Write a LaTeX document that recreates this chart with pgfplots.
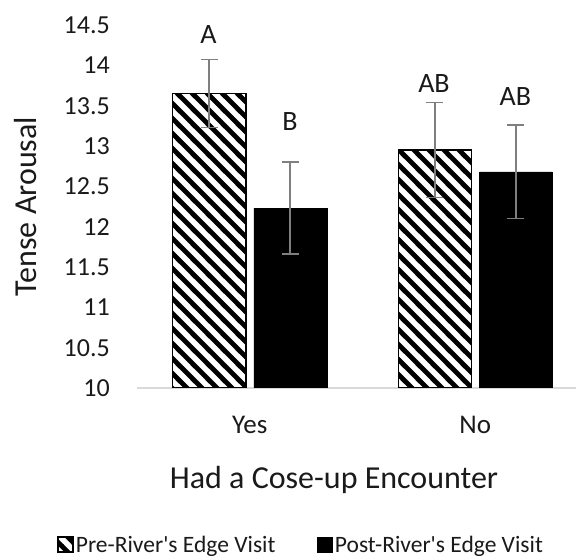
\documentclass[border=0pt]{standalone}
\usepackage{fontspec}
\setmainfont{Carlito}
\usepackage{pgfplots}
\pgfplotsset{compat=1.18}
\usetikzlibrary{patterns}

\definecolor{txt}{HTML}{1A1A1A}
\definecolor{errgray}{HTML}{7F7F7F}
\definecolor{axgray}{HTML}{D9D9D9}

% wide back-slanted stripes for the pre-visit bars
\pgfdeclarepatternformonly{widenwlines}{\pgfqpoint{0pt}{0pt}}{\pgfqpoint{15pt}{15pt}}{\pgfqpoint{15pt}{15pt}}{%
  \pgfsetlinewidth{4.8pt}%
  \pgfpathmoveto{\pgfqpoint{-5pt}{5pt}}\pgfpathlineto{\pgfqpoint{5pt}{-5pt}}%
  \pgfpathmoveto{\pgfqpoint{-1pt}{16pt}}\pgfpathlineto{\pgfqpoint{16pt}{-1pt}}%
  \pgfpathmoveto{\pgfqpoint{10pt}{20pt}}\pgfpathlineto{\pgfqpoint{20pt}{10pt}}%
  \pgfusepath{stroke}%
}

\begin{document}
\begin{tikzpicture}
\path[use as bounding box] (0,0) rectangle (576bp,559bp);
\begin{axis}[
  at={(137bp,171bp)}, anchor=south west,
  scale only axis, width=451bp, height=363bp,
  xmin=-0.5, xmax=1.5, ymin=10, ymax=14.5,
  ytick={10,10.5,...,14.5},
  yticklabels={10,10.5,11,11.5,12,12.5,13,13.5,14,14.5},
  xtick={0,1}, xticklabels={Yes,No},
  axis lines*=left,
  y axis line style={draw=none},
  x axis line style={draw=axgray, line width=1.3bp},
  major tick length=0pt,
  tick style={draw=none},
  ybar, bar width=73bp,
  font=\fontsize{26bp}{28bp}\selectfont,
  every tick label/.append style={text=txt},
  yticklabel style={anchor=east, inner sep=0pt, xshift=-27bp},
  xticklabel style={anchor=center, inner sep=0pt, yshift=-37bp, font=\fontsize{27bp}{30bp}\selectfont},
  ylabel={Tense Arousal},
  ylabel style={at={(axis description cs:-0.248,0.5)}, anchor=center, rotate=0, text=txt, font=\fontsize{32bp}{36bp}\selectfont},
  xlabel={Had a Cose-up Encounter},
  xlabel style={at={(axis description cs:0.437,-0.253)}, anchor=center, text=txt, font=\fontsize{32bp}{36bp}\selectfont},
  legend columns=2,
  legend style={at={(axis description cs:0.364,-0.433)}, anchor=center, draw=none,
    font=\fontsize{23.5bp}{26bp}\selectfont, text=txt, inner sep=0pt,
    /tikz/every even column/.append style={column sep=40bp}},
  legend image code/.code={\draw[#1] (0bp,-7bp) rectangle (15bp,8bp);},
]
\addplot[bar shift=-40.5bp, draw=black, line width=1.5bp, pattern=widenwlines, pattern color=black,
  error bars/.cd, y dir=both, y explicit,
  error bar style={draw=errgray, line width=1.6bp},
  error mark options={rotate=90, draw=errgray, line width=1.6bp, mark size=8.5bp}]
  coordinates {(0,13.65) +- (0,0.42) (1,12.95) +- (0,0.59)};
\addlegendentry{Pre-River\textquotesingle s Edge Visit}
\addplot[bar shift=40.5bp, draw=black, fill=black, line width=0.5bp,
  error bars/.cd, y dir=both, y explicit,
  error bar style={draw=errgray, line width=1.6bp},
  error mark options={rotate=90, draw=errgray, line width=1.6bp, mark size=8.5bp}]
  coordinates {(0,12.23) +- (0,0.57) (1,12.68) +- (0,0.58)};
\addlegendentry{Post-River\textquotesingle s Edge Visit}

\node[text=txt, font=\fontsize{28bp}{30bp}\selectfont] at (axis cs:-0.183,14.38) {A};
\node[text=txt, font=\fontsize{28bp}{30bp}\selectfont] at (axis cs:0.178,13.30) {B};
\node[text=txt, font=\fontsize{28bp}{30bp}\selectfont] at (axis cs:0.817,13.78) {AB};
\node[text=txt, font=\fontsize{28bp}{30bp}\selectfont] at (axis cs:1.178,13.61) {AB};
\end{axis}
\end{tikzpicture}
\end{document}
